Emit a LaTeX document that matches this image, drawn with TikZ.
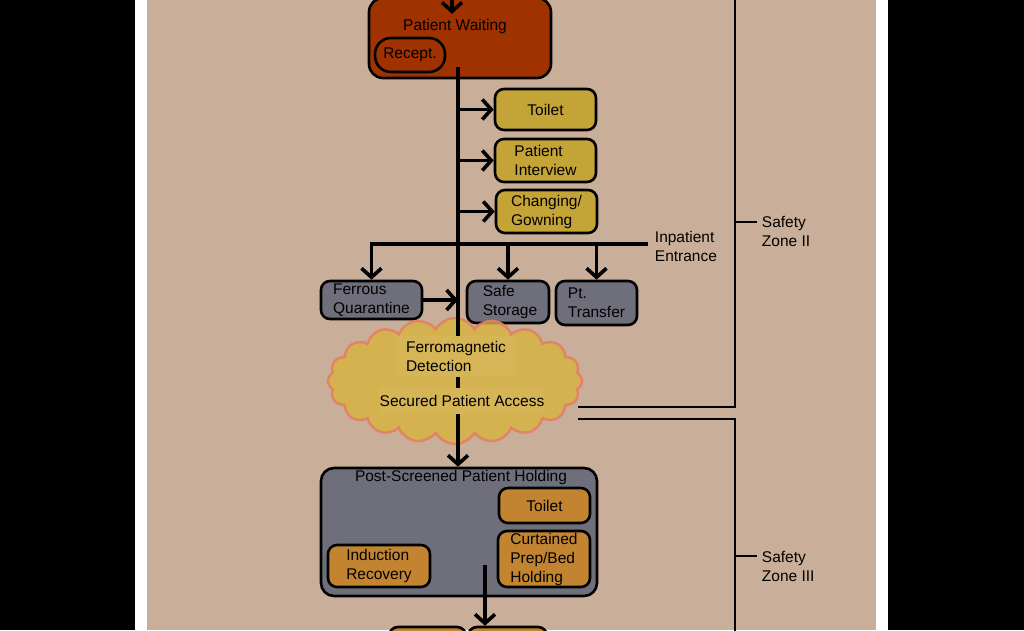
\documentclass[tikz,border=0pt]{standalone}
\usepackage{fontspec}
\setmainfont{Liberation Sans}
\usetikzlibrary{arrows.meta,shapes.symbols}
\definecolor{tanbg}{RGB}{201,175,153}
\definecolor{waitred}{RGB}{160,50,0}
\definecolor{prepyel}{RGB}{196,164,55}
\definecolor{storegray}{RGB}{110,111,122}
\definecolor{holdorg}{RGB}{194,132,48}
\definecolor{cloudyel}{RGB}{215,179,62}
\definecolor{cloudtxt}{RGB}{214,181,86}
\definecolor{cloudline}{RGB}{228,128,100}
\tikzstyle{rm}=[shape=rectangle,
                draw=black,
                line width=2.6pt,
                rounded corners=9pt,
                inner sep=0pt,
                align=left]
\tikzstyle{rw}=[rm, fill=waitred]
\tikzstyle{ry}=[rm, fill=prepyel]
\tikzstyle{rg}=[rm, fill=storegray]
\tikzstyle{ro}=[rm, fill=holdorg]
\tikzstyle{zl}=[line width=2.2pt]

\begin{document}
\begin{tikzpicture}[>={Straight Barb[length=9pt,width=20pt,line width=3.6pt]},
                    x=1pt, y=-1pt, line width=3.2pt,
                    every node/.style={font=\fontsize{15.5}{19}\selectfont}]
\useasboundingbox (0,0) rectangle (1024,630);
\fill[black] (0,0) rectangle (1024,630);
\fill[white] (135,0) rectangle (888,630);
\fill[tanbg] (147,0) rectangle (876,630);

% patient waiting
\node[rw, minimum width=182pt, minimum height=80pt, rounded corners=14pt] (pw) at (460,38) {};
\node (pwt) at (455,26) {Patient Waiting};
\node[rw, minimum width=70pt, minimum height=34pt, rounded corners=16pt] (rc) at (410,55) {Recept.};

% pre-screening rooms
\node[ry, minimum width=101pt, minimum height=41pt] (toil) at (545.5,109.5) {Toilet};
\node[ry, minimum width=101pt, minimum height=43pt] (intv) at (545.5,160.5) {Patient\\Interview};
\node[ry, minimum width=101pt, minimum height=43pt] (gown) at (546.5,211.5) {Changing/\\Gowning};

% storage and transfer
\node[rg, minimum width=101pt, minimum height=38pt] (ferq) at (371.5,300) {Ferrous\\Quarantine};
\node[rg, minimum width=82pt, minimum height=42pt] (safe) at (508,302) {\hspace*{4pt}Safe\\\hspace*{4pt}Storage};
\node[rg, minimum width=81pt, minimum height=44pt] (ptx) at (596.5,303) {Pt.\\Transfer};

% screening
\node[cloud, cloud puffs=20, cloud puff arc=120, aspect=2,
      minimum width=254pt, minimum height=126pt,
      fill=cloudyel, fill opacity=0.8, draw=cloudline, draw opacity=0.9,
      line width=2.5pt] (scr) at (455,381) {};

% post-screened holding
\node[rg, minimum width=276pt, minimum height=128pt, rounded corners=13pt] (hold) at (459,532) {};
\node (holdt) at (461,477) {Post-Screened Patient Holding};
\node[ro, minimum width=91pt, minimum height=35pt] (toil2) at (544.5,505.5) {Toilet};
\node[ro, minimum width=92pt, minimum height=56pt] (bed) at (544,559) {Curtained\\Prep/Bed\\Holding};
\node[ro, minimum width=102pt, minimum height=42pt] (ind) at (379,566) {Induction\\Recovery};
\node[ro, minimum width=77pt, minimum height=46pt] (bx1) at (427.5,650) {};
\node[ro, minimum width=79pt, minimum height=46pt] (bx2) at (507.5,650) {};

% flow
\coordinate (pwin) at (452,-12);
\coordinate (spine) at (458,67);
\coordinate (ie) at (648,244);
\coordinate (hl) at (485,565);
\draw[->] (pwin) -- (pwin |- pwt.north);
\draw[->] (spine) -- (spine |- hold.north);
\draw[->] (spine |- toil) -- (toil.west);
\draw[->] (spine |- intv) -- (intv.west);
\draw[->] (spine |- gown) -- (gown.west);
\draw[->] (ie) -| (ferq.north);
\draw[->] (safe.north |- ie) -- (safe.north);
\draw[->] (ptx.north |- ie) -- (ptx.north);
\draw[->] (ferq.east) -- (spine |- ferq.east);
\draw[->] (hl) -- (hl |- bx2.north);
\node[anchor=west, align=left] (inpt) at (650,246) {Inpatient\\Entrance};

% screening labels
\node[fill=cloudtxt, align=left, inner sep=0pt, minimum width=122pt, minimum height=41pt] (ferro) at (456,356.5) {Ferromagnetic\\Detection};
\node[fill=cloudtxt, inner sep=0pt, minimum width=166pt, minimum height=26pt] (secr) at (462,401) {Secured Patient Access};

% safety zones
\coordinate (zx) at (735,0);
\coordinate (z2s) at (577,-1);
\coordinate (z2e) at (578,407);
\coordinate (z3s) at (578,419);
\coordinate (z3e) at (735,640);
\coordinate (z2k) at (735,222);
\coordinate (z3k) at (735,556);
\draw[zl] (z2s) -- (z2s -| zx) -- (zx |- z2e) -- (z2e);
\draw[zl] (z3s) -- (z3s -| zx) -- (z3e);
\node[anchor=west, align=left] (z2t) at (757,231.5) {Safety\\Zone II};
\node[anchor=west, align=left] (z3t) at (757,566) {Safety\\Zone III};
\draw[zl] (z2k) -- (z2k -| z2t.west);
\draw[zl] (z3k) -- (z3k -| z3t.west);
\end{tikzpicture}
\end{document}
